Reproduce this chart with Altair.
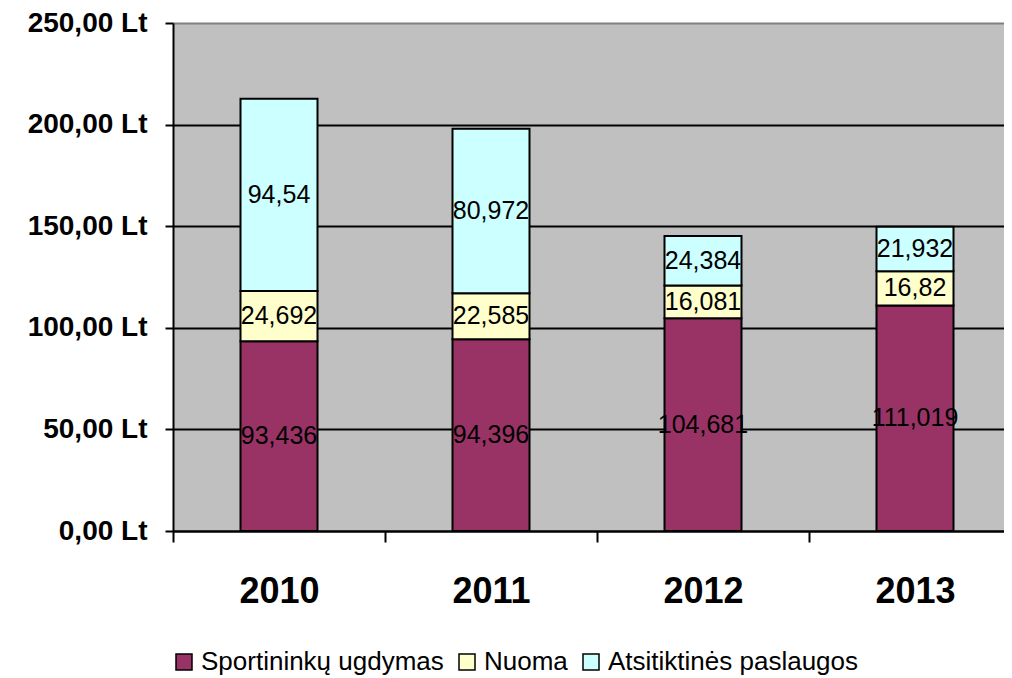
import altair as alt
import pandas as pd

years = ["2010", "2011", "2012", "2013"]
series = ["Sportininkų ugdymas", "Nuoma", "Atsitiktinės paslaugos"]
sportininku = [93.436, 94.396, 104.681, 111.019]
nuoma = [24.692, 22.585, 16.081, 16.82]
atsitiktines = [94.54, 80.972, 24.384, 21.932]
colors = ["#993366", "#FFFFCC", "#CCFFFF"]
y_ticks = [0, 50, 100, 150, 200, 250]

rows = []
for s_i, (name, vals) in enumerate(zip(series, [sportininku, nuoma, atsitiktines])):
    for y, v in zip(years, vals):
        rows.append({"year": y, "series": name, "idx": s_i, "value": v,
                     "label": str(v).replace(".", ",")})
df = pd.DataFrame(rows)

FONT = "Liberation Sans"

x_scale = alt.Scale(range=[0, 848], paddingInner=0, paddingOuter=0)
x_enc = alt.X("year:N", sort=years, scale=x_scale,
              axis=alt.Axis(title=None, labelFontSize=36, labelFontWeight="bold",
                            labelFont=FONT, labelColor="black", labelAngle=0,
                            labelPadding=32, tickSize=11, tickWidth=2,
                            tickColor="black", tickBand="extent",
                            domainColor="black", domainWidth=2, grid=False))
y_scale = alt.Scale(domain=[0, 250], nice=False)

bars = alt.Chart(df).mark_bar(stroke="black", strokeWidth=2, size=77).encode(
    x=x_enc,
    y=alt.Y("value:Q", stack="zero", scale=y_scale,
            axis=alt.Axis(title=None, values=y_ticks,
                          labelExpr="replace(format(datum.value, '.2f'), '.', ',') + ' Lt'",
                          labelFontSize=28, labelFontWeight="bold", labelFont=FONT,
                          labelColor="black", labelPadding=18, tickSize=8,
                          tickWidth=2, tickColor="black", domainColor="black",
                          domainWidth=2, grid=True,
                          gridColor={"condition": {"test": "datum.value === 250", "value": "#808080"}, "value": "black"},
                          gridWidth=2)),
    fill=alt.Fill("series:N", scale=alt.Scale(domain=series, range=colors),
                  legend=alt.Legend(title=None, orient="none", legendX=-2, legendY=626,
                                    direction="horizontal", symbolType="square",
                                    symbolSize=256, symbolStrokeColor="black",
                                    symbolStrokeWidth=1.5, labelFontSize=26,
                                    labelFont=FONT, labelColor="black",
                                    labelOffset=4, columnPadding=10, labelLimit=400)),
    order=alt.Order("idx:Q", sort="ascending"),
)

texts = alt.Chart(df).transform_stack(
    stack="value", groupby=["year"], as_=["y0", "y1"],
    sort=[alt.SortField("idx", order="ascending")]
).transform_calculate(
    mid="(datum.y0 + datum.y1) / 2"
).mark_text(fontSize=25, font=FONT, color="black", baseline="middle").encode(
    x=alt.X("year:N", sort=years, scale=x_scale),
    y=alt.Y("mid:Q", scale=y_scale),
    text="label:N",
)

chart = alt.layer(bars, texts).properties(
    width=831, height=508,
    autosize=alt.AutoSizeParams(type="none"),
    padding={"left": 165, "top": 15, "right": 0, "bottom": 145},
    background="white",
).configure_view(fill="#C0C0C0", stroke=None)

chart.save("out.html", embed_options={"renderer": "svg", "actions": False})
